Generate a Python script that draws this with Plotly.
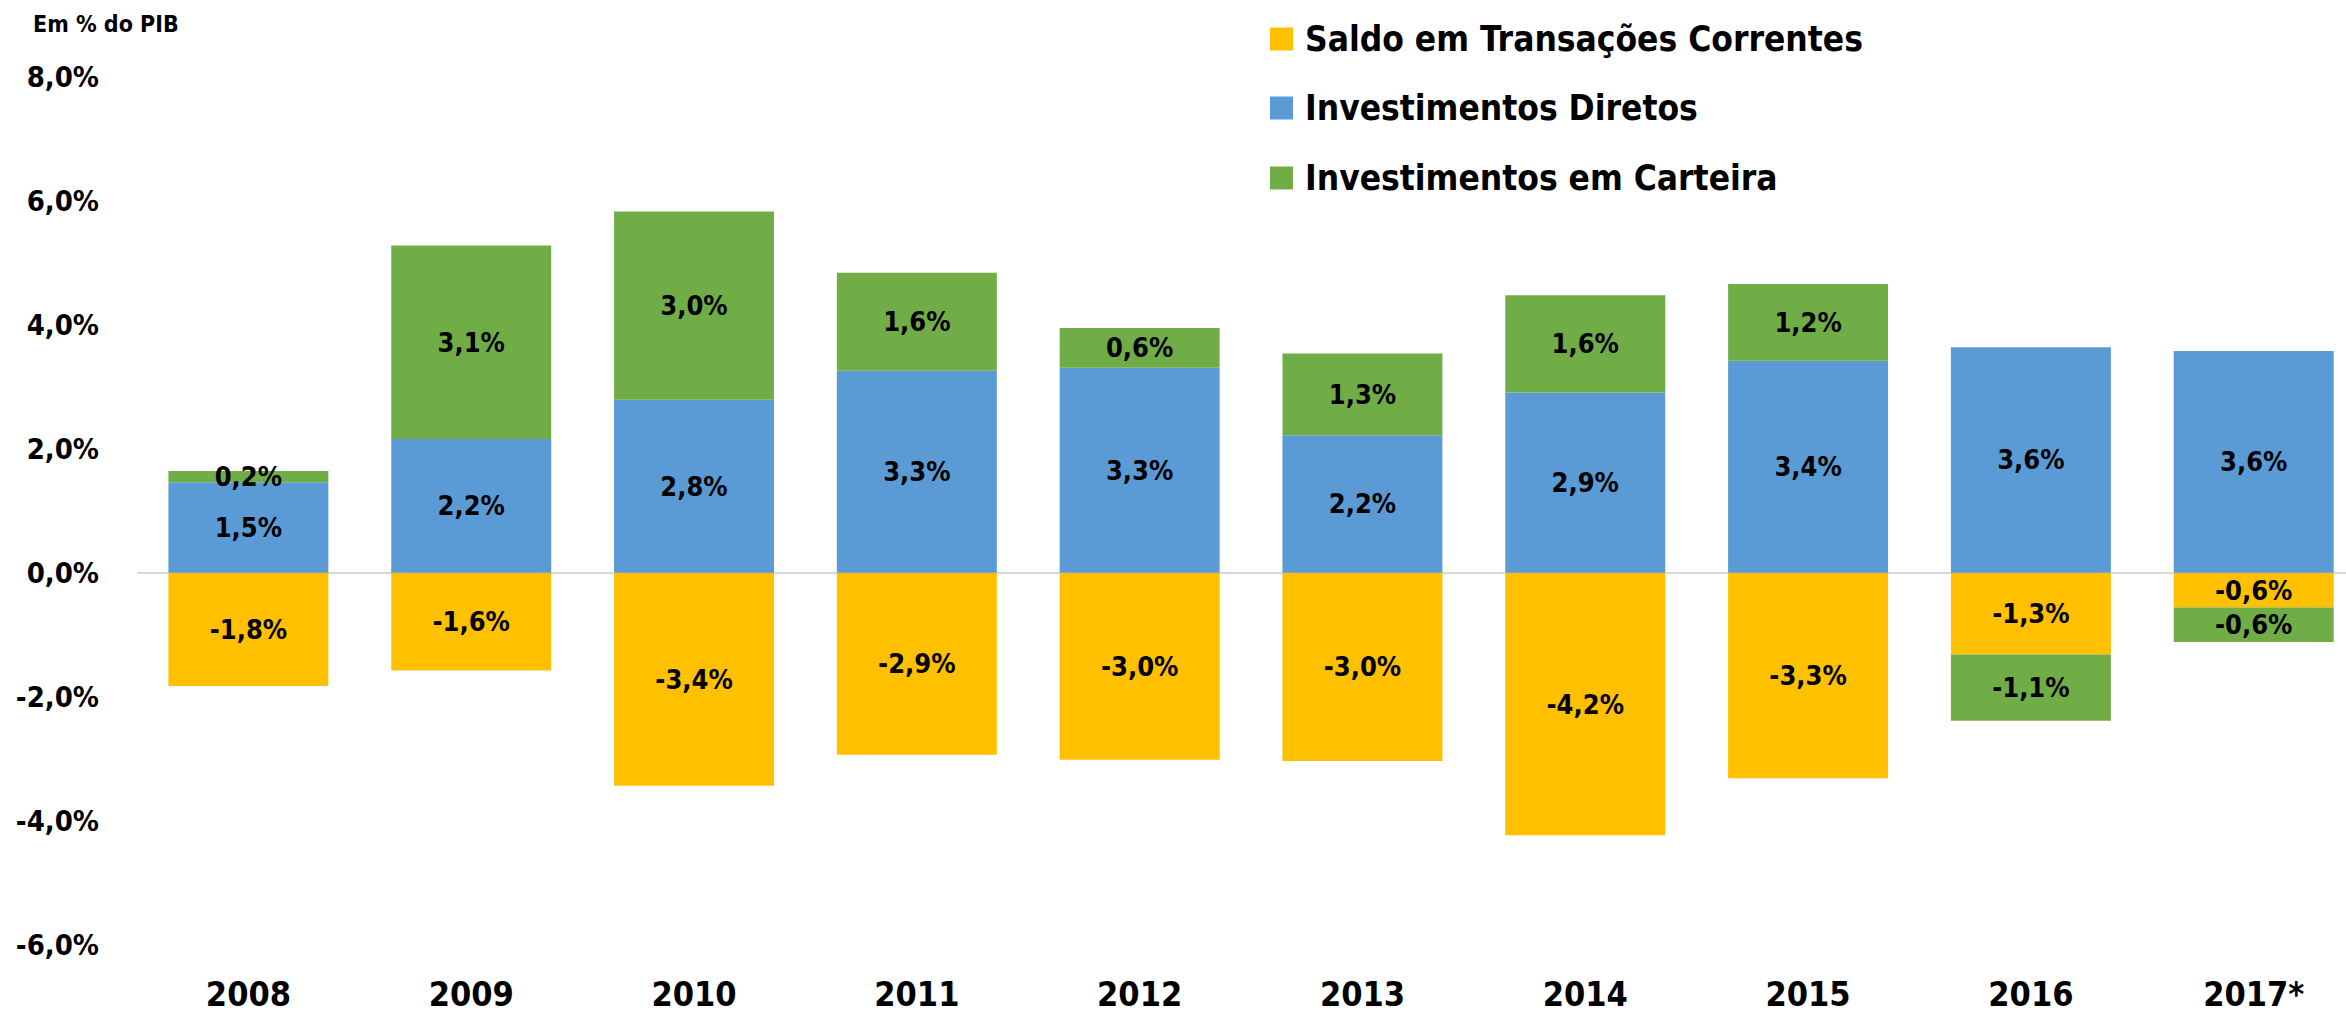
import plotly.graph_objects as go

# ---- data ----
years = ["2008", "2009", "2010", "2011", "2012", "2013", "2014", "2015", "2016", "2017*"]
saldo = [-1.83, -1.58, -3.44, -2.94, -3.02, -3.04, -4.24, -3.32, -1.32, -0.56]
diretos = [1.46, 2.16, 2.79, 3.26, 3.31, 2.22, 2.91, 3.42, 3.64, 3.58]
carteira = [0.18, 3.12, 3.04, 1.58, 0.64, 1.32, 1.57, 1.24, -1.07, -0.56]
series_names = ["Saldo em Transações Correntes", "Investimentos Diretos", "Investimentos em Carteira"]
series_colors = ["#FFC000", "#5B9BD5", "#70AD47"]
y_tickvals = [-6, -4, -2, 0, 2, 4, 6, 8]
y_ticktext = ["-6,0%", "-4,0%", "-2,0%", "0,0%", "2,0%", "4,0%", "6,0%", "8,0%"]
unit_label = "Em % do PIB"

FONT = "'DejaVu Sans Condensed', 'Liberation Sans Narrow', Carlito, Roboto, sans-serif"

W, H = 2346, 1017
ML, MR, MT, MB = 137, 0, 20, 54
ZERO_PX = 572.7
PPU = 61.95
y_top = (ZERO_PX - MT) / PPU
y_bot = -((H - MB) - ZERO_PX) / PPU
CAT_W = 222.8
x_max = ((W - MR) - 248.5) / CAT_W


def fmt(v):
    return f"{v:.1f}".replace(".", ",").replace("-0,0", "0,0") + "%"


fig = go.Figure()
for name, vals, col in zip(series_names, [saldo, diretos, carteira], series_colors):
    fig.add_trace(go.Bar(
        x=years, y=vals, name=name,
        marker=dict(color=col, line=dict(width=0)),
        text=[fmt(v) for v in vals],
        textposition="inside", insidetextanchor="middle", textangle=0,
        textfont=dict(family=FONT, size=27, color="black", weight="bold"),
        showlegend=False, hoverinfo="skip",
    ))

plot_w = W - ML - MR
plot_h = H - MT - MB


def px_x(p):
    return (p - ML) / plot_w


def px_y(p):
    return ((H - MB) - p) / plot_h


# manual legend
legend_rows = [39, 108, 178]
shapes = []
annotations = []
for name, col, yc in zip(series_names, series_colors, legend_rows):
    shapes.append(dict(type="rect", xref="paper", yref="paper",
                       x0=px_x(1270), x1=px_x(1293), y0=px_y(yc + 11.5), y1=px_y(yc - 11.5),
                       fillcolor=col, line=dict(width=0)))
    annotations.append(dict(xref="paper", yref="paper", x=px_x(1303), y=px_y(yc),
                            xanchor="left", yanchor="middle", showarrow=False, text=name,
                            font=dict(family=FONT, size=35, color="black", weight="bold")))

annotations.append(dict(xref="paper", yref="paper", x=px_x(31), y=px_y(24),
                        xanchor="left", yanchor="middle", showarrow=False, text=unit_label,
                        font=dict(family=FONT, size=23, color="black", weight="bold")))

fig.update_layout(
    width=W, height=H,
    margin=dict(l=ML, r=MR, t=MT, b=MB, pad=0),
    barmode="relative", bargap=0.282,
    plot_bgcolor="white", paper_bgcolor="white",
    uniformtext=dict(minsize=27, mode="show"),
    shapes=shapes, annotations=annotations,
    xaxis=dict(range=[-0.5, x_max], showgrid=False, showline=False, ticks="",
               tickfont=dict(family=FONT, size=34, color="black", weight="bold"),
               ticklabelstandoff=8),
    yaxis=dict(range=[y_bot, y_top], tickvals=y_tickvals, ticktext=y_ticktext,
               showgrid=False, showline=False, zeroline=True, zerolinecolor="#D9D9D9",
               zerolinewidth=2, ticks="",
               tickfont=dict(family=FONT, size=29, color="black", weight="bold"),
               ticklabelstandoff=37),
)

fig.write_html("out.html", config={"displayModeBar": False},
               post_script="document.body.style.margin='0';document.body.style.overflow='hidden';")
